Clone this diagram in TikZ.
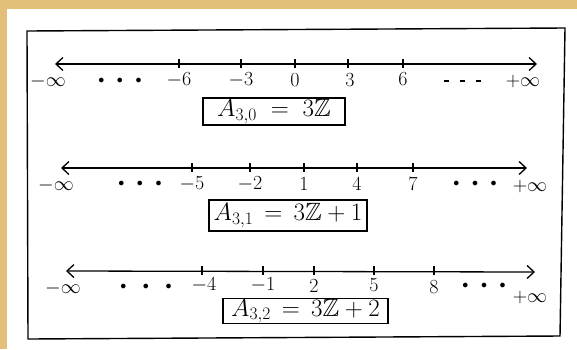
\RequirePackage{fix-cm}
\documentclass[tikz,border=0pt]{standalone}
\usepackage{amssymb}
\usetikzlibrary{arrows.meta}
\definecolor{bgtan}{RGB}{226,192,122}
\begin{document}
\begin{tikzpicture}[x=1pt,y=-1pt,
  axis/.style={line width=1.3pt, {Straight Barb[length=7pt,width=13pt]}-{Straight Barb[length=7pt,width=13pt]}},
  tickmark/.style={line width=1.3pt},
  lab/.style={font=\fontsize{20}{22}\selectfont, inner sep=0pt, anchor=center},
  dotlab/.style={font=\fontsize{12}{14}\selectfont, inner sep=0pt, anchor=center},
  setbox/.style={draw, line width=1.3pt, inner sep=0pt, font=\fontsize{25}{27}\selectfont},
  frameline/.style={line width=1.4pt}]
\fill[bgtan] (0,0) rectangle (577,349);
\fill[white] (7,9) rectangle (577,349);
\useasboundingbox (0,0) rectangle (577,349);
% frame
\coordinate (tl) at (27,31);
\coordinate (tr) at (565,28);
\coordinate (br) at (560,336);
\coordinate (bl) at (28,339);
\draw[frameline] (tl) -- (tr) -- (br) -- (bl) -- cycle;
% ---------- line 1 ----------
\coordinate (a1) at (55,64);
\coordinate (b1) at (537,64);
\draw[axis] (a1) -- (b1);
\foreach \x in {179,241,295,348,403} \draw[tickmark] (\x,59) -- (\x,68);
\node[lab] (n1a) at (48,81) {$-\infty$};
\node[dotlab] (n1b) at (120,81) {$\bullet\hspace{10pt}\bullet\hspace{10pt}\bullet$};
\node[lab] (n1c) at (179,80) {$-6$};
\node[lab] (n1d) at (241,80) {$-3$};
\node[lab] (n1e) at (295,80) {$0$};
\node[lab] (n1f) at (350,80) {$3$};
\node[lab] (n1g) at (403,79) {$6$};
\node[dotlab] (n1h) at (462,81) {\rule{5pt}{1.6pt}\hspace{11pt}\rule{5pt}{1.6pt}\hspace{11pt}\rule{5pt}{1.6pt}};
\node[lab] (n1i) at (523,81) {$+\infty$};
\node[setbox, minimum width=142pt, minimum height=27pt] (s1) at (274,111.5) {$A_{3,0}\;=\;3\mathbb{Z}$};
% ---------- line 2 ----------
\coordinate (a2) at (61,168);
\coordinate (b2) at (527,168);
\draw[axis] (a2) -- (b2);
\foreach \x in {192,250,304,357,413} \draw[tickmark] (\x,163) -- (\x,172);
\node[lab] (n2a) at (56,185) {$-\infty$};
\node[dotlab] (n2b) at (140,184) {$\bullet\hspace{10pt}\bullet\hspace{10pt}\bullet$};
\node[lab] (n2c) at (192,184) {$-5$};
\node[lab] (n2d) at (250,184) {$-2$};
\node[lab] (n2e) at (304,184) {$1$};
\node[lab] (n2f) at (357,184) {$4$};
\node[lab] (n2g) at (413,184) {$7$};
\node[dotlab] (n2h) at (475,184) {$\bullet\hspace{10pt}\bullet\hspace{10pt}\bullet$};
\node[lab] (n2i) at (530,186) {$+\infty$};
\node[setbox, minimum width=158pt, minimum height=31pt] (s2) at (288,215.5) {$A_{3,1}\,=\,3\mathbb{Z}+1$};
% ---------- line 3 ----------
\coordinate (a3) at (66,271);
\coordinate (b3) at (535,272);
\draw[axis] (a3) -- (b3);
\foreach \x in {202,263,314,374,434} \draw[tickmark] (\x,266) -- (\x,275);
\node[lab] (n3a) at (63,288) {$-\infty$};
\node[dotlab] (n3b) at (146,287) {$\bullet\hspace{14pt}\bullet\hspace{14pt}\bullet$};
\node[lab] (n3c) at (204,285) {$-4$};
\node[lab] (n3d) at (263,285) {$-1$};
\node[lab] (n3e) at (314,286) {$2$};
\node[lab] (n3f) at (374,285) {$5$};
\node[lab] (n3g) at (434,287) {$8$};
\node[dotlab] (n3h) at (484,286) {$\bullet\hspace{10pt}\bullet\hspace{10pt}\bullet$};
\node[lab] (n3i) at (530,297) {$+\infty$};
\node[setbox, minimum width=165pt, minimum height=24pt] (s3) at (305.5,311) {$A_{3,2}\,=\,3\mathbb{Z}+2$};
\end{tikzpicture}
\end{document}
